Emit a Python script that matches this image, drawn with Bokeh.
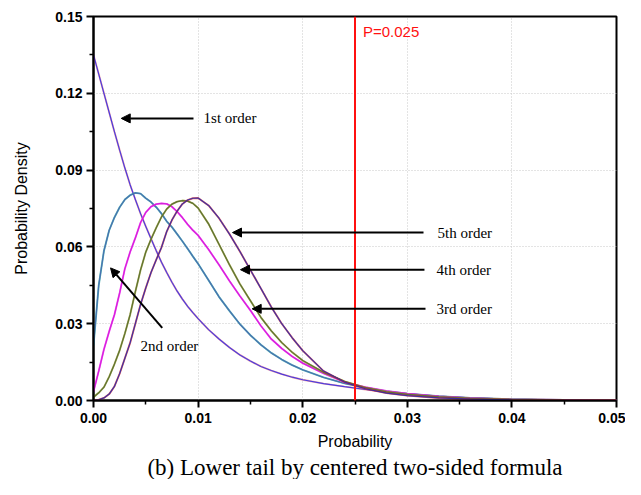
from bokeh.plotting import figure
from bokeh.models import Range1d, FixedTicker, Label, Arrow, NormalHead, Span, Title
from bokeh.embed import file_html
from bokeh.resources import INLINE

# ---------------- data ----------------
prob = [0.0, 0.0005, 0.001, 0.0015, 0.002, 0.0025, 0.003, 0.0035, 0.004, 0.0045,
        0.005, 0.0055, 0.006, 0.0065, 0.007, 0.0075, 0.008, 0.0085, 0.009, 0.0095,
        0.010, 0.011, 0.012, 0.013, 0.014, 0.015, 0.016, 0.017, 0.018, 0.019,
        0.020, 0.022, 0.024, 0.026, 0.028, 0.030, 0.033, 0.036, 0.040, 0.045, 0.050]

order1 = [0.1350, 0.1275, 0.1200, 0.1125, 0.1050, 0.0978, 0.0908, 0.0843, 0.0785, 0.0730,
          0.0680, 0.0632, 0.0585, 0.0540, 0.0500, 0.0462, 0.0427, 0.0396, 0.0368, 0.0343,
          0.0320, 0.0277, 0.0240, 0.0207, 0.0178, 0.0154, 0.0133, 0.0117, 0.0103, 0.0091,
          0.0081, 0.0066, 0.0054, 0.0043, 0.0033, 0.0025, 0.0016, 0.0010, 0.0005, 0.0002, 0.0001]

order2 = [0.0215, 0.0450, 0.0585, 0.0665, 0.0715, 0.0755, 0.0785, 0.0802, 0.0811, 0.0808,
          0.0790, 0.0775, 0.0755, 0.0730, 0.0700, 0.0677, 0.0650, 0.0622, 0.0593, 0.0563,
          0.0534, 0.0470, 0.0405, 0.0350, 0.0298, 0.0255, 0.0218, 0.0186, 0.0160, 0.0138,
          0.0120, 0.0090, 0.0067, 0.0050, 0.0036, 0.0027, 0.0017, 0.0010, 0.0005, 0.0002, 0.0001]

order3 = [0.0035, 0.0115, 0.0200, 0.0270, 0.0335, 0.0420, 0.0515, 0.0580, 0.0635, 0.0695,
          0.0735, 0.0757, 0.0767, 0.0770, 0.0768, 0.0757, 0.0738, 0.0714, 0.0688, 0.0665,
          0.0645, 0.0590, 0.0530, 0.0467, 0.0408, 0.0352, 0.0292, 0.0240, 0.0203, 0.0172,
          0.0146, 0.0106, 0.0072, 0.0052, 0.0037, 0.0027, 0.0016, 0.0009, 0.0004, 0.0002, 0.0001]

order4 = [0.0013, 0.0030, 0.0052, 0.0093, 0.0142, 0.0196, 0.0262, 0.0335, 0.0425, 0.0510,
          0.0580, 0.0630, 0.0675, 0.0717, 0.0748, 0.0767, 0.0777, 0.0781, 0.0779, 0.0770,
          0.0752, 0.0690, 0.0610, 0.0530, 0.0455, 0.0390, 0.0325, 0.0272, 0.0226, 0.0188,
          0.0156, 0.0110, 0.0075, 0.0050, 0.0034, 0.0024, 0.0014, 0.0008, 0.0004, 0.0001, 0.0]

order5 = [0.0000, 0.0003, 0.0010, 0.0025, 0.0055, 0.0105, 0.0165, 0.0225, 0.0300, 0.0375,
          0.0440, 0.0500, 0.0550, 0.0598, 0.0660, 0.0705, 0.0740, 0.0768, 0.0783, 0.0790,
          0.0791, 0.0762, 0.0712, 0.0650, 0.0582, 0.0510, 0.0438, 0.0365, 0.0300, 0.0245,
          0.0195, 0.0115, 0.0072, 0.0046, 0.0029, 0.0019, 0.0010, 0.0005, 0.0002, 0.0001, 0.0]

x_ticks = [0.0, 0.01, 0.02, 0.03, 0.04, 0.05]
x_tick_labels = ["0.00", "0.01", "0.02", "0.03", "0.04", "0.05"]
x_minor = [0.005, 0.015, 0.025, 0.035, 0.045]
y_ticks = [0.0, 0.03, 0.06, 0.09, 0.12, 0.15]
y_tick_labels = ["0.00", "0.03", "0.06", "0.09", "0.12", "0.15"]
y_minor = [0.015, 0.045, 0.075, 0.105, 0.135]
p_limit = 0.025

# ---------------- figure ----------------
p = figure(width=625, height=479, x_range=Range1d(0, 0.05), y_range=Range1d(0, 0.15),
           output_backend="svg", toolbar_location=None,
           min_border_left=93, min_border_right=9, min_border_top=16, min_border_bottom=79)
p.background_fill_color = "white"
p.border_fill_color = "white"
p.outline_line_color = "black"
p.outline_line_width = 2

for ax in (p.xaxis[0], p.yaxis[0]):
    ax.axis_line_width = 2
    ax.axis_line_color = "black"
    ax.major_tick_line_width = 2
    ax.major_tick_out = 7
    ax.major_tick_in = 0
    ax.minor_tick_line_width = 1.5
    ax.minor_tick_out = 4
    ax.minor_tick_in = 0
    ax.major_label_text_font = "Liberation Sans"
    ax.major_label_text_font_style = "bold"
    ax.major_label_text_font_size = "14px"
    ax.major_label_text_color = "black"
    ax.axis_label_text_font = "Liberation Sans"
    ax.axis_label_text_font_style = "normal"
    ax.axis_label_text_font_size = "16px"
    ax.axis_label_text_color = "black"

p.xaxis.ticker = FixedTicker(ticks=x_ticks, minor_ticks=x_minor)
p.yaxis.ticker = FixedTicker(ticks=y_ticks, minor_ticks=y_minor)
p.xaxis.major_label_overrides = dict(zip(x_ticks, x_tick_labels))
p.yaxis.major_label_overrides = dict(zip(y_ticks, y_tick_labels))
p.xaxis.axis_label = "Probability"
p.yaxis.axis_label = "Probability Density"
p.xaxis.major_label_standoff = 5
p.yaxis.major_label_standoff = 4
p.xaxis.axis_label_standoff = 7
p.yaxis.axis_label_standoff = 22

for g in (p.xgrid[0], p.ygrid[0]):
    g.grid_line_color = "#c8c8c8"
    g.grid_line_dash = "1 2"
    g.grid_line_width = 1

# ---------------- curves ----------------
styles = [
    (order1, "#e04040", "#3a30e6", 0.45),
    (order2, "#2aa3a3", "#4868b0", 0.8),
    (order3, "#f02cf0", "#d21ad8", 0.8),
    (order4, "#9a9a30", "#556b2f", 0.8),
    (order5, "#dd2424", "#2c2ca8", 0.7),
]
for ys, under, over, ua in styles:
    p.line(prob, ys, line_color=under, line_width=1.9, line_alpha=ua)
    p.line(prob, ys, line_color=over, line_width=1.2, line_alpha=0.9)

# ---------------- threshold ----------------
p.add_layout(Span(location=p_limit, dimension="height", line_color="#ff1010", line_width=2))
p.add_layout(Label(x=p_limit, y=0.15, x_offset=8, y_offset=-6, text="P=0.025",
                   text_color="#ff1010", text_font="Liberation Sans",
                   text_font_size="15px", text_baseline="top"))

# ---------------- annotations ----------------
def arrow(x0, y0, x1, y1):
    p.add_layout(Arrow(end=NormalHead(size=9, fill_color="black", line_color="black"),
                       x_start=x0, y_start=y0, x_end=x1, y_end=y1,
                       line_color="black", line_width=2))

def note(x, y, txt):
    p.add_layout(Label(x=x, y=y, text=txt, text_font="Liberation Serif",
                       text_font_size="15px", text_color="black",
                       text_baseline="middle", text_align="left"))

arrow(0.00956, 0.1102, 0.00265, 0.1102)
note(0.01052, 0.1102, "1st order")
arrow(0.03155, 0.0656, 0.01329, 0.0656)
note(0.03289, 0.0656, "5th order")
arrow(0.03164, 0.0511, 0.01405, 0.0511)
note(0.03279, 0.0511, "4th order")
arrow(0.03174, 0.0358, 0.01517, 0.0358)
note(0.03279, 0.0358, "3rd order")
arrow(0.00657, 0.0284, 0.00163, 0.0518)
note(0.00449, 0.0211, "2nd order")

# caption below the chart
cap = Title(text="(b) Lower tail by centered two-sided formula", align="center",
            text_font="Liberation Serif", text_font_size="23px", text_font_style="normal",
            text_color="black", standoff=0)
p.add_layout(cap, "below")

open("out.html", "w").write(file_html(p, INLINE))
